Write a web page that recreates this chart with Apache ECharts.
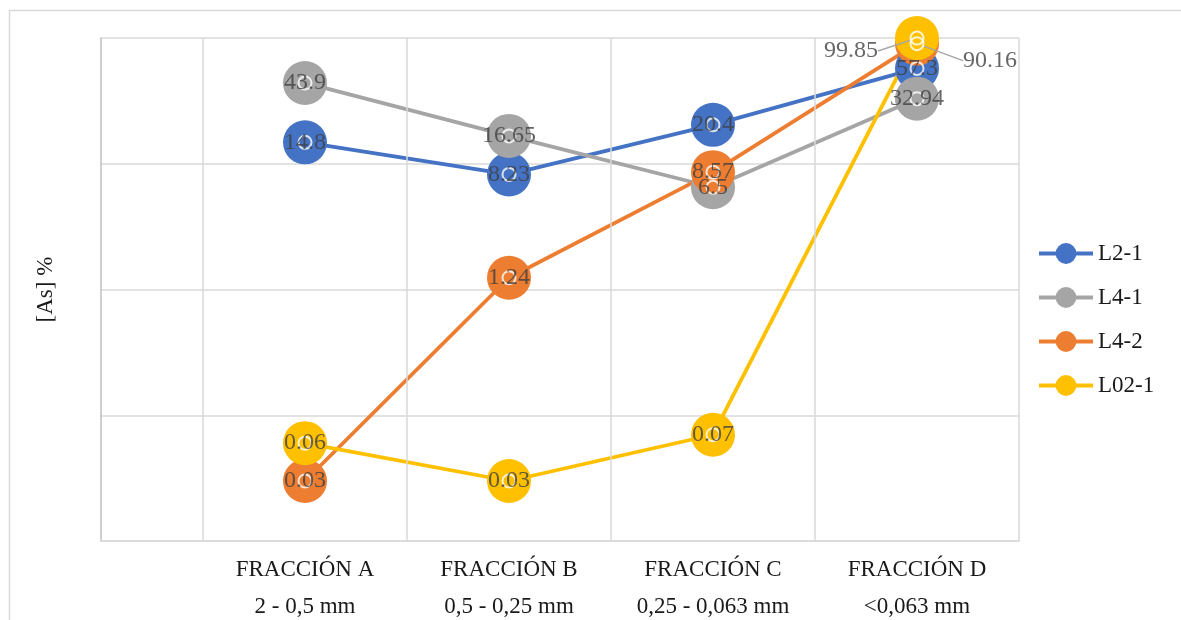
<!DOCTYPE html>
<html>
<head>
<meta charset="utf-8">
<script src="https://cdn.jsdelivr.net/npm/echarts@6/dist/echarts.min.js"></script>
<style>
html,body{margin:0;padding:0;background:#fff;}
#chart{width:1181px;height:620px;}
</style>
</head>
<body>
<div id="chart"></div>
<script>
const categories = ['FRACCIÓN A', 'FRACCIÓN B', 'FRACCIÓN C', 'FRACCIÓN D'];
const sizeRanges = ['2 - 0,5 mm', '0,5 - 0,25 mm', '0,25 - 0,063 mm', '<0,063 mm'];
const seriesNames = ['L2-1', 'L4-1', 'L4-2', 'L02-1'];
const L2_1 = [14.8, 8.23, 20.4, 57.3];
const L4_1 = [43.9, 16.65, 6.5, 32.94];
const L4_2 = [0.03, 1.24, 8.57, 90.16];
const L02_1 = [0.06, 0.03, 0.07, 99.85];

const seriesValues = [L2_1, L4_1, L4_2, L02_1];
const colors = ['#4472C4', '#A5A5A5', '#ED7D31', '#FFC000'];
const FONT = '"Liberation Serif", "DejaVu Serif", serif';

// leader-line label offsets for crowded points (series index -> {dataIndex: [dx,dy]})
const labelShift = { 2: { 3: [73, 17] }, 3: { 3: [-66, 13] } };

const gridX = [0.5].concat(categories.map((c, i) => i + 1.5));

const series = [];
series.push({
  type: 'line', name: '_grid', data: [], silent: true, z: 1,
  markLine: {
    silent: true, symbol: 'none', label: { show: false }, animation: false,
    lineStyle: { color: '#d9d9d9', type: 'solid', width: 1.5 },
    data: gridX.map(x => ({ xAxis: x }))
  }
});
seriesValues.forEach((vals, s) => {
  series.push({
    type: 'line', name: seriesNames[s], z: 2,
    data: vals.map((v, i) => [i + 1, v]),
    symbol: 'circle', symbolSize: 44,
    itemStyle: { color: colors[s] },
    lineStyle: { color: colors[s], width: 3.8 },
    label: { show: false }
  });
});
seriesValues.forEach((vals, s) => {
  const shifts = labelShift[s] || {};
  series.push({
    type: 'scatter', name: '_lbl' + s, z: 3, silent: true,
    data: vals.map((v, i) => ({
      value: [i + 1, v],
      labelLine: shifts[i] ? { show: true, lineStyle: { color: '#a6a6a6', width: 1.5 } } : { show: false }
    })),
    symbol: 'circle', symbolSize: 13,
    itemStyle: { color: 'rgba(0,0,0,0)', borderColor: '#ffffff', borderWidth: 2 },
    label: {
      show: true, position: 'inside', color: '#404040', fontFamily: FONT, fontSize: 24,
      offset: [0, 1],
      formatter: p => String(p.value[1])
    },
    labelLayout: p => {
      const sh = shifts[p.dataIndex];
      return sh ? { dx: sh[0], dy: sh[1] } : {};
    }
  });
});

const chart = echarts.init(document.getElementById('chart'), null, { renderer: 'canvas' });
chart.setOption({
  animation: false,
  backgroundColor: '#ffffff',
  graphic: [{
    type: 'rect', silent: true, z: -10,
    shape: { x: 9.5, y: 10.5, width: 1300, height: 800 },
    style: { fill: 'none', stroke: '#d9d9d9', lineWidth: 1.5 }
  }],
  grid: { left: 101, top: 38, right: 162, bottom: 79, containLabel: false },
  legend: {
    data: seriesNames, orient: 'vertical', left: 1037, top: 242, padding: 0,
    itemWidth: 54, itemHeight: 26, itemGap: 21,
    lineStyle: { width: 4 },
    textStyle: { fontFamily: FONT, fontSize: 23, color: '#1a1a1a' }
  },
  xAxis: {
    type: 'value', min: 0, max: 4.5, interval: 1,
    splitLine: { show: false },
    axisTick: { show: false },
    axisLine: { show: true, lineStyle: { color: '#d9d9d9', width: 1.5 } },
    axisLabel: {
      margin: 10, showMaxLabel: false, showMinLabel: false,
      formatter: v => (Number.isInteger(v) && v >= 1 && v <= 4)
        ? '{a|' + categories[v - 1] + '}\n{a|' + sizeRanges[v - 1] + '}' : '',
      rich: { a: { fontFamily: FONT, fontSize: 23, color: '#1a1a1a', lineHeight: 37 } }
    }
  },
  yAxis: {
    type: 'log', logBase: 10, min: 0.01, max: 100,
    axisLabel: { show: false }, axisTick: { show: false },
    axisLine: { show: true, lineStyle: { color: '#bfbfbf', width: 1.5 } },
    splitLine: { show: true, lineStyle: { color: '#d9d9d9', width: 1.5 } },
    name: '[As] %', nameLocation: 'middle', nameGap: 44,
    nameTextStyle: { fontFamily: FONT, fontSize: 23, color: '#1a1a1a' }
  },
  series: series
});
</script>
</body>
</html>
